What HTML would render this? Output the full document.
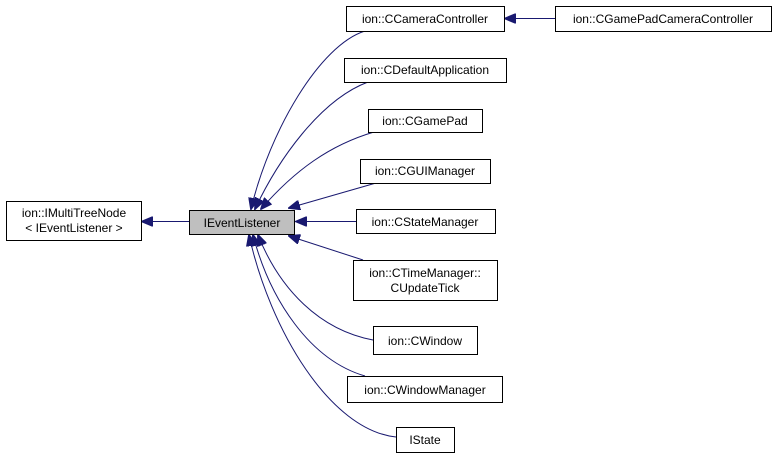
<!DOCTYPE html>
<html><head><meta charset="utf-8"><style>
body{margin:0;background:#fff}
svg{display:block}
text{font-family:"Liberation Sans",sans-serif;font-size:12px;fill:#000}
</style></head><body>
<svg width="777" height="459" viewBox="0 0 777 459" xmlns="http://www.w3.org/2000/svg">
<defs><marker id="a" markerWidth="12" markerHeight="10" refX="11" refY="5" orient="auto" markerUnits="userSpaceOnUse"><path d="M0,0 L12,5 L0,10 z" fill="#191970" stroke="#191970"/></marker></defs>
<g fill="none" stroke="#191970" stroke-width="1" marker-end="url(#a)">
<path d="M555,18.5 L505,18.5"/>
<path d="M189,221.5 L142,221.5"/>
<path d="M365,31 C320,45 270,130 251,209"/>
<path d="M368,82 C320,100 278,160 255,209"/>
<path d="M374,132 C330,145 295,170 261,209"/>
<path d="M376,183 L289,208"/>
<path d="M356,221.5 L296,221.5"/>
<path d="M363,260 L289,236"/>
<path d="M373,340 C320,330 280,290 258,235"/>
<path d="M365,376 C310,360 270,300 253,235"/>
<path d="M396,437 C330,430 270,330 249,235"/>
</g>
<g stroke="#000" stroke-width="1">
<rect x="189.5" y="210.5" width="105" height="24" fill="#bfbfbf"/>
<rect x="6.5" y="201.5" width="135" height="39" fill="#fff"/>
<rect x="346.5" y="6.5" width="158" height="25" fill="#fff"/>
<rect x="555.5" y="6.5" width="216" height="25" fill="#fff"/>
<rect x="344.5" y="58.5" width="162" height="24" fill="#fff"/>
<rect x="368.5" y="109.5" width="114" height="23" fill="#fff"/>
<rect x="360.5" y="159.5" width="130" height="24" fill="#fff"/>
<rect x="356.5" y="209.5" width="139" height="24" fill="#fff"/>
<rect x="353.5" y="260.5" width="144" height="40" fill="#fff"/>
<rect x="373.5" y="326.5" width="104" height="28" fill="#fff"/>
<rect x="347.5" y="376.5" width="155" height="26" fill="#fff"/>
<rect x="396.5" y="427.5" width="58" height="25" fill="#fff"/>
</g>
<g text-anchor="middle">
<text x="242" y="227">IEventListener</text>
<text x="74" y="217">ion::IMultiTreeNode</text>
<text x="74" y="232">&lt; IEventListener &gt;</text>
<text x="425" y="23">ion::CCameraController</text>
<text x="663" y="23">ion::CGamePadCameraController</text>
<text x="425" y="74">ion::CDefaultApplication</text>
<text x="425" y="125">ion::CGamePad</text>
<text x="425" y="175">ion::CGUIManager</text>
<text x="425" y="226">ion::CStateManager</text>
<text x="425" y="277">ion::CTimeManager::</text>
<text x="425" y="292">CUpdateTick</text>
<text x="425" y="345">ion::CWindow</text>
<text x="425" y="394">ion::CWindowManager</text>
<text x="425" y="444">IState</text>
</g>
</svg>
</body></html>
